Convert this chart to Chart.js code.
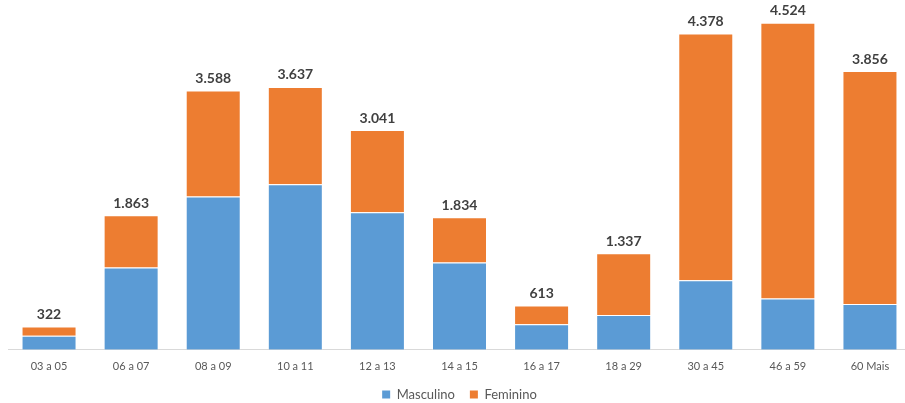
<!DOCTYPE html>
<html>
<head>
<meta charset="utf-8">
<script src="https://cdn.jsdelivr.net/npm/chart.js@4"></script>
<style>
  html, body { margin: 0; padding: 0; background: #fff; overflow: hidden; }
  #wrap { width: 911px; height: 411px; }
</style>
</head>
<body>
<div id="wrap"><canvas id="faixasChart"></canvas></div>
<script>
const faixas = ['03 a 05', '06 a 07', '08 a 09', '10 a 11', '12 a 13', '14 a 15', '16 a 17', '18 a 29', '30 a 45', '46 a 59', '60 Mais'];
const masculino = [194, 1138, 2120, 2292, 1904, 1208, 355, 480, 964, 710, 632];
const feminino = [128, 725, 1468, 1345, 1137, 626, 258, 857, 3414, 3814, 3224];
const totais = ['322', '1.863', '3.588', '3.637', '3.041', '1.834', '613', '1.337', '4.378', '4.524', '3.856'];

// Total labels above each stacked bar
const totalLabels = {
    id: 'totalLabels',
    afterDatasetsDraw(chart) {
        const ctx = chart.ctx;
        const meta = chart.getDatasetMeta(1);
        ctx.save();
        ctx.font = 'bold 14px Lato, "Open Sans", sans-serif';
        ctx.fillStyle = '#404040';
        ctx.textAlign = 'center';
        ctx.textBaseline = 'bottom';
        meta.data.forEach((bar, i) => {
            ctx.fillText(totais[i], bar.x, bar.y - 5);
        });
        ctx.restore();
    }
};

const ctx = document.getElementById('faixasChart').getContext('2d');
new Chart(ctx, {
    type: 'bar',
    data: {
        labels: faixas,
        datasets: [
            {
                label: 'Masculino',
                data: masculino,
                backgroundColor: '#5B9BD5',
                borderColor: 'rgba(255,255,255,0.4)',
                borderWidth: 1,
                categoryPercentage: 1,
                barPercentage: 0.67
            },
            {
                label: 'Feminino',
                data: feminino,
                backgroundColor: '#ED7D31',
                borderColor: 'rgba(255,255,255,0.4)',
                borderWidth: 1,
                categoryPercentage: 1,
                barPercentage: 0.67
            }
        ]
    },
    options: {
        responsive: true,
        maintainAspectRatio: false,
        animation: false,
        layout: {
            padding: { left: 8, right: 0, top: 0, bottom: 0 }
        },
        scales: {
            x: {
                stacked: true,
                grid: { display: false, drawTicks: false },
                border: { color: '#D9D9D9', width: 1 },
                ticks: {
                    color: '#595959',
                    font: { family: 'Lato, "Open Sans", sans-serif', size: 11 },
                    padding: 10,
                    maxRotation: 0
                }
            },
            y: {
                stacked: true,
                display: false,
                min: 0,
                max: 4840
            }
        },
        plugins: {
            legend: {
                position: 'bottom',
                labels: {
                    boxWidth: 8,
                    boxHeight: 8,
                    color: '#595959',
                    font: { family: 'Lato, "Open Sans", sans-serif', size: 13 },
                    padding: 5,
                    generateLabels(chart) {
                        const items = Chart.defaults.plugins.legend.labels.generateLabels(chart);
                        items.forEach(it => { it.lineWidth = 0; });
                        items[0].text += '   ';
                        return items;
                    }
                }
            },
            tooltip: { enabled: false }
        }
    },
    plugins: [totalLabels]
});
</script>
</body>
</html>
